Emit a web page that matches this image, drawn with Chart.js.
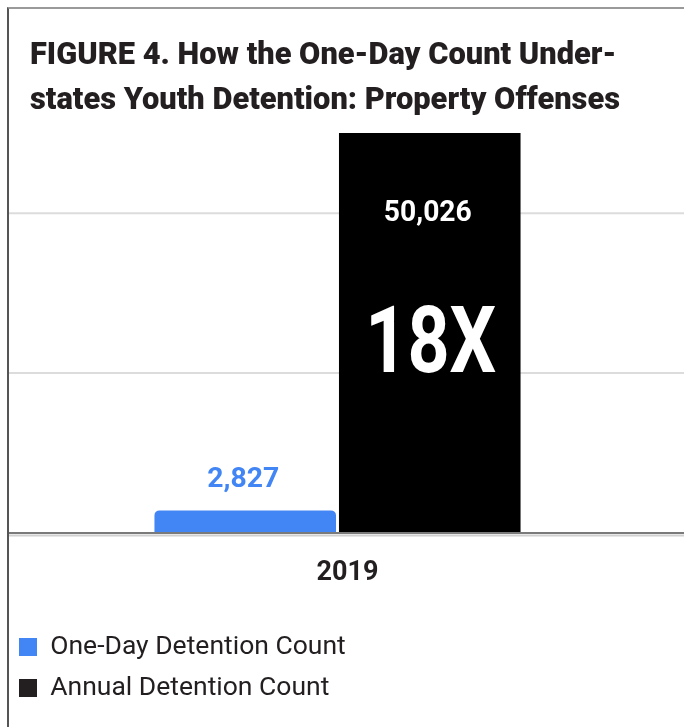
<!DOCTYPE html>
<html><head><meta charset="utf-8">
<script src="https://cdn.jsdelivr.net/npm/chart.js@4/dist/chart.umd.min.js"></script>
<style>
html,body{margin:0;padding:0;background:#fff;overflow:hidden;}
#wrap{position:relative;width:684px;height:727px;overflow:hidden;}
#frame{position:absolute;left:7px;top:7px;width:720px;height:760px;border-left:2px solid #555;border-top:2px solid #9a9a9a;box-sizing:border-box;}
#title{position:absolute;left:30px;top:31px;margin:0;font-family:Roboto,sans-serif;font-weight:900;font-size:32px;line-height:45px;color:#231f20;white-space:nowrap;transform-origin:0 0;}
canvas{position:absolute;left:0;top:0;}
</style></head>
<body>
<div id="wrap">
<canvas id="c" width="684" height="727"></canvas>
<div id="frame"></div>
<div id="title">FIGURE 4. How the One-Day Count Under-<br>states Youth Detention: Property Offenses</div>
</div>
<script>
const categories = ['2019'];
const seriesNames = ['One-Day Detention Count', 'Annual Detention Count'];
const oneDayValues = [2827];
const annualValues = [50026];
const valueLabels = [['2,827'], ['50,026']];
const ratioLabel = '18X';
const gridValues = [20000, 40000];
const yMax = 50400;

const BLUE = '#4285f4';
const BLACK = '#000000';

// condense the title (reference uses a condensed face)
(function () {
  const t = document.getElementById('title');
  const w = t.getBoundingClientRect().width;
  t.style.transform = 'scaleX(' + (590 / w) + ')';
})();

const gridPlugin = {
  id: 'gridPlugin',
  beforeDatasetsDraw(chart) {
    const {ctx, chartArea, scales: {y}} = chart;
    ctx.save();
    ctx.strokeStyle = '#dcdcdc';
    ctx.lineWidth = 2;
    gridValues.forEach(v => {
      const py = y.getPixelForValue(v);
      ctx.beginPath();
      ctx.moveTo(chartArea.left, py);
      ctx.lineTo(chart.width, py);
      ctx.stroke();
    });
    ctx.restore();
  },
  afterDatasetsDraw(chart) {
    const {ctx, chartArea, scales: {y}} = chart;
    const py = y.getPixelForValue(0);
    ctx.save();
    ctx.strokeStyle = '#d0d0d0';
    ctx.lineWidth = 2;
    ctx.beginPath(); ctx.moveTo(chartArea.left, py + 2.5); ctx.lineTo(chart.width, py + 2.5); ctx.stroke();
    ctx.strokeStyle = '#7a7a7a';
    ctx.lineWidth = 2;
    ctx.beginPath(); ctx.moveTo(chartArea.left, py); ctx.lineTo(chart.width, py); ctx.stroke();
    ctx.restore();
  }
};

function condensedText(ctx, text, x, y, targetWidth) {
  const w = ctx.measureText(text).width;
  ctx.save();
  ctx.translate(x, y);
  ctx.scale(targetWidth / w, 1);
  ctx.fillText(text, 0, 0);
  ctx.restore();
}

const barLabels = {
  id: 'barLabels',
  afterDatasetsDraw(chart) {
    const {ctx} = chart;
    ctx.save();
    ctx.textAlign = 'center';
    ctx.textBaseline = 'alphabetic';
    const b0 = chart.getDatasetMeta(0).data[0];
    ctx.fillStyle = BLUE;
    ctx.font = "bold 28px Roboto";
    condensedText(ctx, valueLabels[0][0], b0.x - 2, b0.y - 23, 72);
    const b1 = chart.getDatasetMeta(1).data[0];
    ctx.fillStyle = '#ffffff';
    ctx.font = "bold 29px Roboto";
    condensedText(ctx, valueLabels[1][0], b1.x - 2, b1.y + 88, 88);
    ctx.font = "bold 92px Roboto";
    condensedText(ctx, ratioLabel, b1.x + 1, b1.y + 239, 131);
    ctx.restore();
  }
};

new Chart(document.getElementById('c'), {
  type: 'bar',
  data: {
    labels: categories,
    datasets: [
      {label: seriesNames[0], data: oneDayValues, backgroundColor: BLUE, borderRadius: 5, borderSkipped: 'start',
       categoryPercentage: 0.56, barPercentage: 0.984},
      {label: seriesNames[1], data: annualValues, backgroundColor: BLACK, borderRadius: 0,
       categoryPercentage: 0.56, barPercentage: 0.984}
    ]
  },
  options: {
    responsive: false,
    animation: false,
    devicePixelRatio: 1,
    layout: {padding: {top: 130, left: 4.5, right: 17, bottom: 15.75}},
    plugins: {
      title: {display: false},
      tooltip: {enabled: false},
      legend: {
        position: 'bottom',
        align: 'start',
        labels: {
          boxWidth: 18, boxHeight: 18, padding: 14.5,
          color: '#231f20',
          font: {family: 'Roboto', size: 26.5, weight: 'normal'},
          generateLabels(chart) {
            return chart.data.datasets.map((d, i) => ({
              text: d.label, fillStyle: i === 0 ? BLUE : '#231f20', strokeStyle: 'transparent',
              lineWidth: 0, hidden: false, datasetIndex: i, fontColor: '#231f20'
            }));
          }
        }
      }
    },
    scales: {
      x: {
        grid: {display: false, drawTicks: false},
        border: {display: false},
        ticks: {font: {family: 'Roboto', size: 27, weight: 'bold'}, color: '#231f20', padding: 24, labelOffset: 10},
        afterFit(s) { s.height = 86.25; }
      },
      y: {
        min: 0, max: yMax,
        ticks: {display: false, stepSize: 20000},
        grid: {display: false, drawTicks: false, tickLength: 0},
        border: {display: false},
        afterFit(s) { s.width = 3.5; }
      }
    }
  },
  plugins: [gridPlugin, barLabels]
});
</script>
</body></html>
